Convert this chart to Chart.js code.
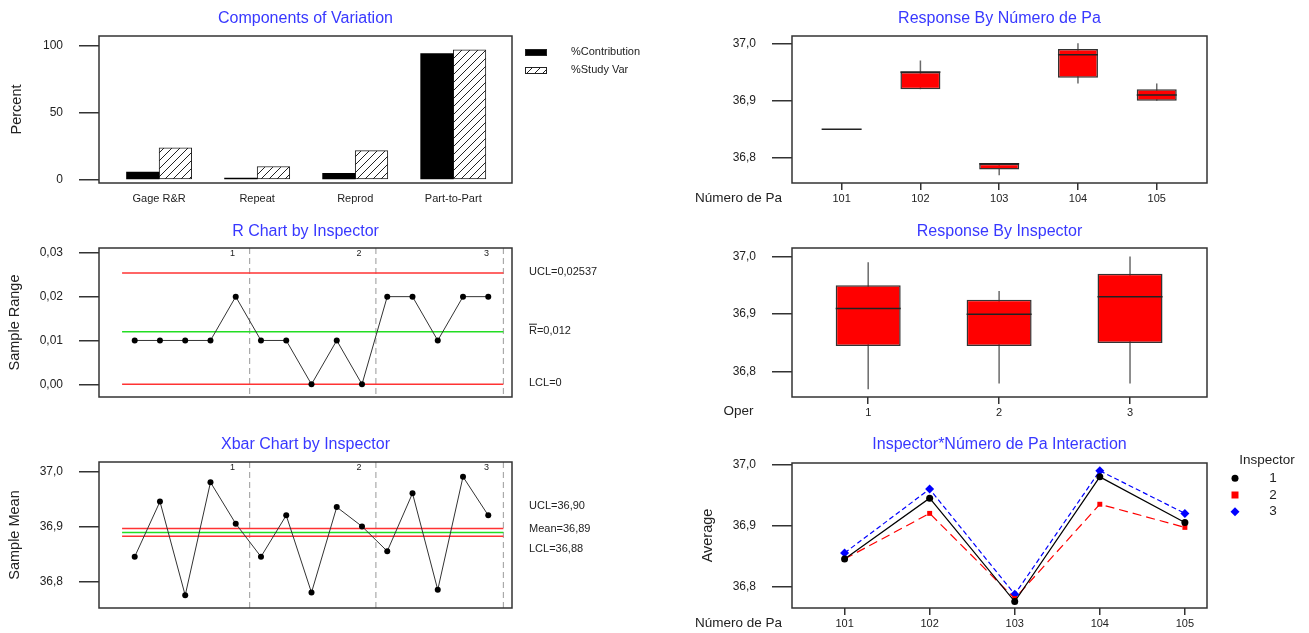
<!DOCTYPE html>
<html>
<head>
<meta charset="utf-8">
<script src="https://cdn.jsdelivr.net/npm/chart.js@4"></script>
<style>
  body { margin: 0; background: #fff; width: 1309px; height: 633px; position: relative; overflow: hidden; }
  canvas { position: absolute; }
</style>
</head>
<body>
<script>
// ---- data ----
const components = ['Gage R&R', 'Repeat', 'Reprod', 'Part-to-Part'];
const pctContribution = [5.7, 1.2, 4.7, 94.3];
const pctStudyVar = [23.9, 9.9, 21.7, 97.1];
const percentTicks = [0, 50, 100];

const inspectors = ['1', '2', '3'];
const parts = ['101', '102', '103', '104', '105'];

// one subgroup per inspector x part (inspector 1: parts 101..105, then 2, then 3)
const sampleRanges = [0.01, 0.01, 0.01, 0.01, 0.02, 0.01, 0.01, 0.00, 0.01, 0.00, 0.02, 0.02, 0.01, 0.02, 0.02];
const sampleMeans = [36.845, 36.945, 36.775, 36.98, 36.905, 36.845, 36.92, 36.78, 36.935, 36.90, 36.855, 36.96, 36.785, 36.99, 36.92];
const rLimits = [0.02537, 0.012, 0];
const rLimitLabels = ['UCL=0,02537', 'R=0,012', 'LCL=0'];
const rTicks = [0, 0.01, 0.02, 0.03];
const xbarLimits = [36.896, 36.889, 36.882];
const xbarLimitLabels = ['UCL=36,90', 'Mean=36,89', 'LCL=36,88'];
const responseTicks = [36.8, 36.9, 37.0];

// box plots: min, q1, median, q3, max
const partMin = [36.85, 36.92, 36.77, 36.93, 36.90];
const partQ1 = [36.85, 36.92, 36.78, 36.94, 36.90];
const partMedian = [36.85, 36.95, 36.79, 36.98, 36.91];
const partQ3 = [36.85, 36.95, 36.79, 36.99, 36.92];
const partMax = [36.85, 36.97, 36.79, 37.00, 36.93];

const operMin = [36.77, 36.78, 36.78];
const operQ1 = [36.845, 36.845, 36.85];
const operMedian = [36.91, 36.90, 36.93];
const operQ3 = [36.95, 36.925, 36.97];
const operMax = [36.99, 36.94, 37.00];

// interaction: average per part for each inspector
const avgInspector1 = [36.845, 36.945, 36.775, 36.98, 36.905];
const avgInspector2 = [36.845, 36.92, 36.78, 36.935, 36.897];
const avgInspector3 = [36.855, 36.96, 36.787, 36.99, 36.92];

// ---- helpers ----
const FONT = '"Liberation Sans", Arial, Helvetica, sans-serif';
const BLUE = '#3838ff';
const INK = '#333333';
const TXT = '#222222';
const comma = d => v => v.toFixed(d).replace('.', ',');

function makeCanvas(p) {
  const c = document.createElement('canvas');
  c.width = p.w; c.height = p.h;
  c.style.left = p.ox + 'px'; c.style.top = p.oy + 'px';
  c.style.width = p.w + 'px'; c.style.height = p.h + 'px';
  document.body.appendChild(c);
  return c;
}

function layout(p) {
  // no auto padding: the big median markers would otherwise shrink the plot box
  return { autoPadding: false, padding: { left: 0, top: p.y1 - p.oy, right: p.ox + p.w - p.x2, bottom: p.oy + p.h - p.y2 - p.xh } };
}

function yAxis(p, min, max, ticks, fmt, title, titlePad) {
  return {
    min: min, max: max, bounds: 'data',
    afterFit(s) { s.width = p.x1 - p.ox; },
    afterBuildTicks(s) { s.ticks = ticks.map(v => ({ value: v })); },
    grid: { drawOnChartArea: false, drawTicks: true, tickLength: 20, color: INK, lineWidth: 1.5 },
    border: { display: false },
    ticks: { padding: 16, color: TXT, font: { family: FONT, size: 12 }, callback: fmt },
    title: title ? { display: true, text: title, color: TXT, font: { family: FONT, size: 14.5 }, padding: { top: titlePad, bottom: 0 } } : { display: false }
  };
}

function xAxis(p, min, max, labels, tickLen, pad, show) {
  return {
    type: 'linear', display: show, min: min, max: max, bounds: 'data', offset: false,
    afterFit(s) { s.height = p.xh; },
    afterBuildTicks(s) { s.ticks = labels.map((l, i) => ({ value: p.first + i })); },
    grid: { display: tickLen > 0, offset: false, drawOnChartArea: false, drawTicks: tickLen > 0, tickLength: tickLen, color: INK, lineWidth: 1.5 },
    border: { display: false },
    ticks: { padding: pad, color: TXT, autoSkip: false, maxRotation: 0, font: { family: FONT, size: 11 },
      callback: v => labels[Math.round(v) - p.first] }
  };
}

function decor(title, titleY, under, over) {
  return {
    id: 'decor',
    beforeDatasetsDraw(chart) {
      if (under) { chart.ctx.save(); under(chart, chart.ctx); chart.ctx.restore(); }
    },
    afterDraw(chart) {
      const ctx = chart.ctx, a = chart.chartArea;
      ctx.save();
      ctx.strokeStyle = INK; ctx.lineWidth = 1.5;
      ctx.strokeRect(a.left, a.top, a.right - a.left, a.bottom - a.top);
      ctx.fillStyle = BLUE; ctx.font = '16px ' + FONT;
      ctx.textAlign = 'center'; ctx.textBaseline = 'middle';
      ctx.fillText(title, (a.left + a.right) / 2, titleY);
      ctx.restore();
      if (over) { ctx.save(); over(chart, ctx); ctx.restore(); }
    }
  };
}

function text(ctx, s, x, y, size, align) {
  ctx.fillStyle = TXT; ctx.font = size + 'px ' + FONT;
  ctx.textAlign = align || 'left'; ctx.textBaseline = 'middle';
  ctx.fillText(s, x, y);
}

function hatch() {
  const c = document.createElement('canvas'); c.width = 8; c.height = 8;
  const g = c.getContext('2d');
  g.fillStyle = '#fff'; g.fillRect(0, 0, 8, 8);
  g.strokeStyle = '#222'; g.lineWidth = 1;
  g.beginPath();
  g.moveTo(-1, 9); g.lineTo(9, -1);
  g.moveTo(-5, 5); g.lineTo(5, -5);
  g.moveTo(3, 13); g.lineTo(13, 3);
  g.stroke();
  return g.createPattern(c, 'repeat');
}

function dividers(chart, ctx) {
  const a = chart.chartArea, xs = chart.scales.x;
  [5.55, 10.55, 15.6].forEach((v, i) => {
    const px = xs.getPixelForValue(v);
    ctx.strokeStyle = '#aaaaaa'; ctx.lineWidth = 1.2; ctx.setLineDash([6, 4]);
    ctx.beginPath(); ctx.moveTo(px, a.top); ctx.lineTo(px, a.bottom); ctx.stroke();
    ctx.setLineDash([]);
    text(ctx, inspectors[i], px - 17, a.top + 6, 9, 'center');
  });
}

function limitLine(v, color) {
  return { data: [{ x: 0.5, y: v }, { x: 15.6, y: v }], borderColor: color, borderWidth: 1.5, pointRadius: 0 };
}

Chart.defaults.animation = false;
Chart.defaults.events = [];
Chart.defaults.plugins.legend.display = false;
Chart.defaults.plugins.tooltip.enabled = false;

const pattern = hatch();

// ---- Components of Variation ----
const p1 = { ox: 0, oy: 0, w: 660, h: 215, x1: 99, x2: 512, y1: 36, y2: 183, xh: 30, first: 0 };
new Chart(makeCanvas(p1), {
  type: 'bar',
  data: {
    datasets: [
      { label: '%Contribution', data: pctContribution.map((v, i) => ({ x: i, y: v })), backgroundColor: '#000', borderWidth: 0, barThickness: 32.6 },
      { label: '%Study Var', data: pctStudyVar.map((v, i) => ({ x: i, y: v })), backgroundColor: pattern, borderColor: '#222', borderWidth: 1, borderSkipped: false, barThickness: 32.6 }
    ]
  },
  options: {
    responsive: false, layout: layout(p1),
    scales: {
      x: xAxis(p1, -0.613, 3.599, components, 0, 9, true),
      y: yAxis(p1, -2.46, 107.5, percentTicks, v => String(v), 'Percent', 8)
    }
  },
  plugins: [decor('Components of Variation', 19, null, (chart, ctx) => {
    const ds = chart.data.datasets;
    [[49, ds[0]], [67, ds[1]]].forEach(([y, d]) => {
      ctx.fillStyle = d.backgroundColor; ctx.fillRect(525, y, 22, 7);
      ctx.strokeStyle = '#222'; ctx.lineWidth = 1; ctx.strokeRect(525.5, y + 0.5, 21, 6);
      text(ctx, d.label, 571, y + 3, 11);
    });
  })]
});

// ---- R Chart ----
const p2 = { ox: 0, oy: 215, w: 660, h: 210, x1: 99, x2: 512, y1: 248, y2: 397, xh: 0, first: 1 };
new Chart(makeCanvas(p2), {
  type: 'line',
  data: {
    datasets: [
      { data: sampleRanges.map((v, i) => ({ x: i + 1, y: v })), borderColor: '#333', borderWidth: 1, pointRadius: 3, pointBackgroundColor: '#000', pointBorderWidth: 0 },
      limitLine(rLimits[0], '#ff3333'),
      limitLine(rLimits[1], '#22dd22'),
      limitLine(rLimits[2], '#ff3333')
    ]
  },
  options: {
    responsive: false, layout: layout(p2),
    scales: {
      x: xAxis(p2, -0.414, 15.94, [], 0, 0, false),
      y: yAxis(p2, -0.0029, 0.0311, rTicks, comma(2), 'Sample Range', 6)
    }
  },
  plugins: [decor('R Chart by Inspector', 16.7, dividers, (chart, ctx) => {
    const ys = chart.scales.y;
    rLimits.forEach((v, i) => {
      const y = ys.getPixelForValue(v) - 1;
      text(ctx, rLimitLabels[i], 529, y, 11);
      if (i === 1) {
        const w = ctx.measureText('R').width;
        ctx.strokeStyle = TXT; ctx.lineWidth = 1;
        ctx.beginPath(); ctx.moveTo(529, y - 6.5); ctx.lineTo(529 + w, y - 6.5); ctx.stroke();
      }
    });
  })]
});

// ---- Xbar Chart ----
const p3 = { ox: 0, oy: 425, w: 660, h: 208, x1: 99, x2: 512, y1: 462, y2: 608, xh: 0, first: 1 };
new Chart(makeCanvas(p3), {
  type: 'line',
  data: {
    datasets: [
      { data: sampleMeans.map((v, i) => ({ x: i + 1, y: v })), borderColor: '#333', borderWidth: 1, pointRadius: 3, pointBackgroundColor: '#000', pointBorderWidth: 0 },
      limitLine(xbarLimits[0], '#ff3333'),
      limitLine(xbarLimits[1], '#22dd22'),
      limitLine(xbarLimits[2], '#ff3333')
    ]
  },
  options: {
    responsive: false, layout: layout(p3),
    scales: {
      x: xAxis(p3, -0.414, 15.94, [], 0, 0, false),
      y: yAxis(p3, 36.752, 37.0168, responseTicks, comma(1), 'Sample Mean', 6)
    }
  },
  plugins: [decor('Xbar Chart by Inspector', 20, dividers, (chart, ctx) => {
    const mid = chart.scales.y.getPixelForValue(xbarLimits[1]);
    [-26, -3, 17].forEach((off, i) => text(ctx, xbarLimitLabels[i], 529, mid + off, 11));
  })]
});

// ---- box plot panels ----
function boxSets(mins, q1, med, q3, maxs, width) {
  return [
    { type: 'line', data: med.map((v, i) => ({ x: i + 1, y: v })), showLine: false, pointStyle: 'line', pointRadius: width / 2, pointBorderColor: '#222', pointBorderWidth: 1.5, order: 1 },
    { data: q1.map((v, i) => ({ x: i + 1, y: [v, q3[i]] })), backgroundColor: '#ff0000', borderColor: '#333', borderWidth: 1.5, borderSkipped: false, grouped: false, maxBarThickness: width, order: 2 },
    { data: mins.map((v, i) => ({ x: i + 1, y: [v, maxs[i]] })), backgroundColor: '#6a6a6a', borderWidth: 0, grouped: false, maxBarThickness: 1.5, order: 3 }
  ];
}

const p4 = { ox: 660, oy: 0, w: 649, h: 215, x1: 792, x2: 1207, y1: 36, y2: 183, xh: 30, first: 1 };
new Chart(makeCanvas(p4), {
  type: 'bar',
  data: { datasets: boxSets(partMin, partQ1, partMedian, partQ3, partMax, 40) },
  options: {
    responsive: false, layout: layout(p4),
    scales: {
      x: xAxis(p4, 0.37, 5.638, parts, 7, 2, true),
      y: yAxis(p4, 36.7565, 37.0127, responseTicks, comma(1))
    }
  },
  plugins: [decor('Response By Número de Pa', 19, null, (chart, ctx) => text(ctx, 'Número de Pa', 78.5, 198, 13.5, 'center'))]
});

const p5 = { ox: 660, oy: 215, w: 649, h: 210, x1: 792, x2: 1207, y1: 248, y2: 397, xh: 25, first: 1 };
new Chart(makeCanvas(p5), {
  type: 'bar',
  data: { datasets: boxSets(operMin, operQ1, operMedian, operQ3, operMax, 65) },
  options: {
    responsive: false, layout: layout(p5),
    scales: {
      x: xAxis(p5, 0.418, 3.588, inspectors, 7, 2, true),
      y: yAxis(p5, 36.7565, 37.0146, responseTicks, comma(1))
    }
  },
  plugins: [decor('Response By Inspector', 16.7, null, (chart, ctx) => text(ctx, 'Oper', 78.5, 196, 13.5, 'center'))]
});

// ---- Interaction ----
const p6 = { ox: 660, oy: 425, w: 649, h: 208, x1: 792, x2: 1207, y1: 463, y2: 608, xh: 24, first: 1 };
const interStyles = [
  { color: '#000000', dash: [], style: 'circle', r: 3.5 },
  { color: '#ff0000', dash: [9, 5], style: 'rect', r: 3.5 },
  { color: '#0000ff', dash: [5, 3], style: 'rectRot', r: 4.5 }
];
new Chart(makeCanvas(p6), {
  type: 'line',
  data: {
    datasets: [avgInspector1, avgInspector2, avgInspector3].map((arr, k) => ({
      label: inspectors[k],
      data: arr.map((v, i) => ({ x: i + 1, y: v })),
      borderColor: interStyles[k].color, borderWidth: 1.2, borderDash: interStyles[k].dash,
      pointStyle: interStyles[k].style, pointRadius: interStyles[k].r,
      pointBackgroundColor: interStyles[k].color, pointBorderColor: interStyles[k].color, pointBorderWidth: 0
    }))
  },
  options: {
    responsive: false, layout: layout(p6),
    scales: {
      x: xAxis(p6, 0.382, 5.26, parts, 7, 2, true),
      y: yAxis(p6, 36.7645, 37.0028, responseTicks, comma(1), 'Average', 39)
    }
  },
  plugins: [decor('Inspector*Número de Pa Interaction', 20, null, (chart, ctx) => {
    text(ctx, 'Número de Pa', 78.5, 198, 13.5, 'center');
    text(ctx, 'Inspector', 607, 35.7, 13.5, 'center');
    chart.data.datasets.forEach((d, k) => {
      const y = 53.3 + k * 16.7, x = 575, s = interStyles[k];
      ctx.fillStyle = s.color;
      ctx.beginPath();
      if (s.style === 'circle') ctx.arc(x, y, s.r, 0, Math.PI * 2);
      else if (s.style === 'rect') ctx.rect(x - s.r, y - s.r, s.r * 2, s.r * 2);
      else { ctx.moveTo(x, y - s.r); ctx.lineTo(x + s.r, y); ctx.lineTo(x, y + s.r); ctx.lineTo(x - s.r, y); ctx.closePath(); }
      ctx.fill();
      text(ctx, d.label, 613, y, 13.5, 'center');
    });
  })]
});
</script>
</body>
</html>
